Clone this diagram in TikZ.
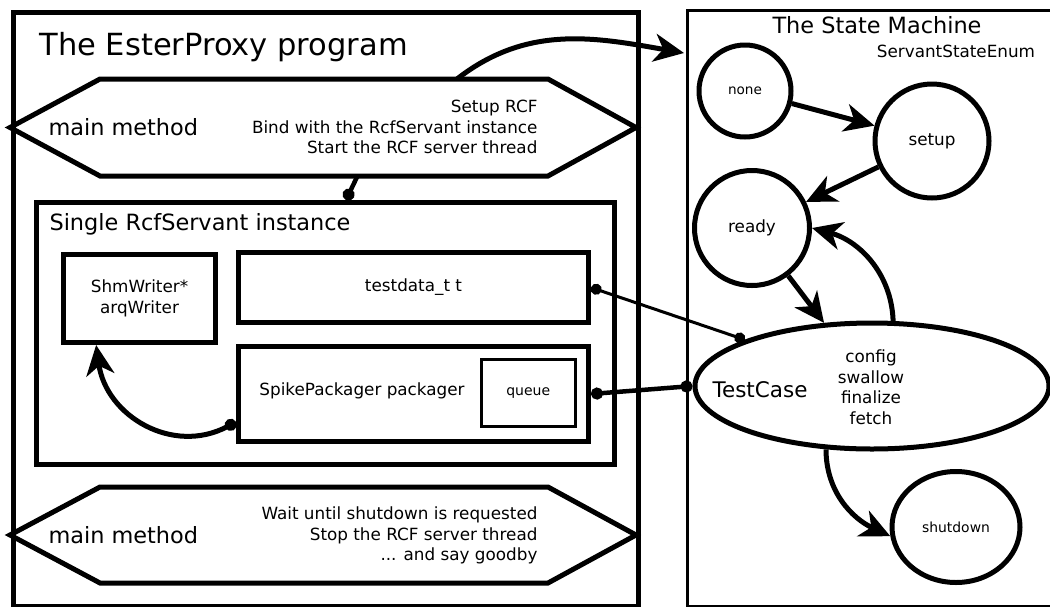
\documentclass[tikz,border=0pt]{standalone}
\usepackage{fontspec}
\setmainfont{DejaVu Sans}
\usetikzlibrary{arrows.meta,shapes.geometric,calc}

\begin{document}
\begin{tikzpicture}[x=1pt,y=-1pt,
  frame/.style={draw, line width=5pt, inner sep=0pt, anchor=north west},
  thinframe/.style={draw, line width=2.5pt, inner sep=0pt, anchor=north west},
  hexline/.style={draw, line width=5pt, line join=miter},
  state/.style={draw, line width=5pt, circle, inner sep=0pt},
  bigtip/.tip={Stealth[length=30pt,width=28pt,inset=9pt]},
  dot/.tip={Circle[length=12pt]},
  flow/.style={line width=5pt, -bigtip},
  link/.style={line width=4.5pt, -dot},
  huge/.style={font=\fontsize{30.5}{36}\selectfont},
  big/.style={font=\fontsize{22.4}{27}\selectfont},
  normal/.style={font=\fontsize{16.8}{20.5}\selectfont},
  small/.style={font=\fontsize{14}{17}\selectfont},
]
\useasboundingbox (0,0) rectangle (1050,606);
\clip (0,0) rectangle (1050,606);

% ---------------- the program side ----------------
\node[frame, minimum width=625pt, minimum height=594pt] (program) at (11,10) {};
\node[huge, anchor=base west] (programTitle) at (36,55) {The EsterProxy program};

% start-up part of main
\coordinate (mainA) at (10,127.5);
\coordinate (mainB) at (636,127.5);
\draw[hexline] (mainA) -- (100,79) -- (548,79) -- (mainB) -- (548,176) -- (100,176) -- cycle;
\coordinate (mainTopOut) at (457,79);
\coordinate (mainTopDown) at (357,177);
\node[big, anchor=west] (mainStartName) at (45,127.5) {main method};
\node[normal, anchor=east, align=right] (mainStartSteps) at (541,127) {Setup RCF\\Bind with the RcfServant instance\\Start the RCF server thread};

% the servant object
\node[frame, minimum width=578pt, minimum height=262pt] (servant) at (34,200) {};
\node[big, anchor=base west] (servantTitle) at (46,230) {Single RcfServant instance};
\node[frame, minimum width=152pt, minimum height=88pt, normal, align=center] (shm) at (61,252) {ShmWriter*\\arqWriter};
\node[frame, minimum width=350pt, minimum height=70pt, normal] (testdata) at (236,250) {testdata\_t t};
\node[frame, minimum width=350pt, minimum height=95pt] (spike) at (236,344) {};
\node[normal] (spikeName) at (362,391) {SpikePackager packager};
\node[thinframe, minimum width=94pt, minimum height=67pt, small] (queue) at (480,358) {queue};

% shut-down part of main
\coordinate (mainC) at (10,535);
\coordinate (mainD) at (636,535);
\draw[hexline] (mainC) -- (100,487) -- (548,487) -- (mainD) -- (548,583) -- (100,583) -- cycle;
\node[big, anchor=west] (mainStopName) at (45,535) {main method};
\node[normal, anchor=east, align=right] (mainStopSteps) at (541,535.5) {Wait until shutdown is requested\\Stop the RCF server thread\\... and say goodby};

% ---------------- the state machine ----------------
\node[draw, line width=3pt, inner sep=0pt, anchor=north west, minimum width=420pt, minimum height=596pt] (machine) at (686,9) {};
\node[big, anchor=base] (machineTitle) at (877,33) {The State Machine};
\node[normal, anchor=base] (machineEnum) at (956,57) {ServantStateEnum};

\node[state, minimum size=92pt, font=\fontsize{13.6}{16}\selectfont] (none) at (745,91) {none};
\node[state, minimum size=114pt, normal] (setup) at (932,141) {setup};
\node[state, minimum size=115pt, normal] (ready) at (752,228) {ready};
\node[draw, line width=5pt, ellipse, inner sep=0pt, minimum width=354pt, minimum height=126pt] (testcase) at (872,386) {};
\node[font=\fontsize{21.5}{26}\selectfont, anchor=base] (testcaseName) at (760,397) {TestCase};
\node[normal, align=center] (testcaseOps) at (871,387) {config\\swallow\\finalize\\fetch};
\node[draw, line width=5pt, ellipse, inner sep=0pt, minimum width=128pt, minimum height=111pt, font=\fontsize{13.9}{16}\selectfont] (shutdown) at (956,527) {shutdown};

% ---------------- connectors ----------------
\coordinate (machineIn) at ($(machine.north west)+(-2,44)$);
\draw[flow] (mainTopOut) to[out=38, in=170] (machineIn);
\draw[link] (mainTopDown) -- ($(servant.north west)+(312,0)$);
\draw[flow, dot-bigtip] ([yshift=-28pt]spike.west) to[out=208, in=-82, looseness=1.15] (shm.-133);

\draw[line width=3pt, {Circle[length=11pt]}-{Circle[length=11pt]}] (testdata.east) -- (testcase.160);
\draw[line width=4.5pt, dot-dot] (spike.east) -- (testcase.west);

\draw[flow] (none) -- (setup);
\draw[flow] (setup) -- (ready);
\draw[flow] (ready) -- (testcase);
\draw[flow] (testcase.72) to[out=92, in=-15] (ready.east);
\draw[flow] (testcase.-126) to[out=-90, in=155] (shutdown.-172);
\end{tikzpicture}
\end{document}
